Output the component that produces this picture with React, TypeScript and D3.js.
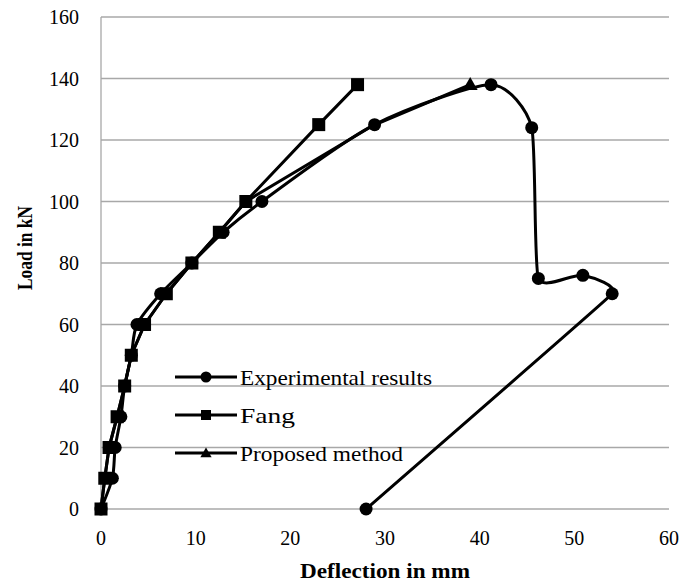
import React from 'react';
import * as d3 from 'd3';

// deflection (mm) / load (kN)
const expDefl = [0, 1.2, 1.5, 2.1, 2.5, 3.2, 3.8, 6.3, 9.6, 12.9, 17.0, 28.9, 41.2, 45.5, 46.2, 50.9, 54.0, 28.0];
const expLoad = [0, 10, 20, 30, 40, 50, 60, 70, 80, 90, 100, 125, 138, 124, 75, 76, 70, 0];

const fangDefl = [0, 0.4, 0.85, 1.7, 2.5, 3.2, 4.6, 6.9, 9.6, 12.5, 15.3, 23.0, 27.1];
const fangLoad = [0, 10, 20, 30, 40, 50, 60, 70, 80, 90, 100, 125, 138];

const propDefl = [0, 0.4, 0.85, 1.7, 2.5, 3.2, 4.6, 6.9, 9.6, 12.5, 15.3, 28.6, 39.0];
const propLoad = [0, 10, 20, 30, 40, 50, 60, 70, 80, 90, 100, 124.5, 138];

const xTicks = [0, 10, 20, 30, 40, 50, 60];
const yTicks = [0, 20, 40, 60, 80, 100, 120, 140, 160];

const legendNames = ['Experimental results', 'Fang', 'Proposed method'];
const legendWidths = [192, 55, 163];

const font = '"Liberation Serif", "Times New Roman", serif';

type Pt = [number, number];
const zip = (a: number[], b: number[]): Pt[] => a.map((v, i) => [v, b[i]]);

// excel-ish smoothed line: catmull-rom handles, capped by the shorter neighbouring segment
function smoothPath(pts: Pt[], k = 0.3) {
    const p = d3.path();
    const n = pts.length;
    const seg = (i: number) => Math.hypot(pts[i + 1][0] - pts[i][0], pts[i + 1][1] - pts[i][1]);
    const tan = pts.map((_, i) => {
        const a = pts[Math.max(0, i - 1)], b = pts[Math.min(n - 1, i + 1)];
        const dx = b[0] - a[0], dy = b[1] - a[1];
        const len = Math.hypot(dx, dy) || 1;
        const near = Math.min(i > 0 ? seg(i - 1) : Infinity, i < n - 1 ? seg(i) : Infinity);
        const h = Math.min(len / 6, k * near);
        return [dx / len * h, dy / len * h];
    });
    p.moveTo(pts[0][0], pts[0][1]);
    for (let i = 0; i < n - 1; i++) {
        const a = pts[i], b = pts[i + 1];
        p.bezierCurveTo(a[0] + tan[i][0], a[1] + tan[i][1],
            b[0] - tan[i + 1][0], b[1] - tan[i + 1][1], b[0], b[1]);
    }
    return p.toString();
}

export default function App() {
    const width = 693, height = 583;
    const left = 101, right = 669, top = 17, bottom = 509;

    const x = d3.scaleLinear().domain([0, 60]).range([left, right]);
    const y = d3.scaleLinear().domain([0, 160]).range([bottom, top]);

    const exp = zip(expDefl, expLoad);
    const fang = zip(fangDefl, fangLoad);
    const prop = zip(propDefl, propLoad);

    const straight = d3.line<Pt>().x(d => x(d[0])).y(d => y(d[1]));

    const tri = d3.symbol().type(d3.symbolTriangle).size(95)();
    const triSmall = d3.symbol().type(d3.symbolTriangle).size(55)();

    const marker = (kind: string, cx: number, cy: number, key: any, small = false) => {
        if (kind === 'circle') return <circle key={key} cx={cx} cy={cy} r={small ? 5.5 : 6.5} fill="#000" />;
        if (kind === 'square') {
            const s = small ? 10 : 13;
            return <rect key={key} x={cx - s / 2} y={cy - s / 2} width={s} height={s} fill="#000" />;
        }
        return <path key={key} d={small ? triSmall! : tri!} transform={`translate(${cx},${cy + 1})`} fill="#000" />;
    };

    const legendKinds = ['circle', 'square', 'triangle'];
    const legendY = [377, 415, 453];

    // only the peak triangle of the proposed curve shows; the rest sit under the other markers
    const propPeak = prop[prop.length - 1];

    return (
        <svg width={width} height={height} style={{ position: 'absolute', left: 0, top: 0 }}
            fontFamily={font}>
            <rect width={width} height={height} fill="#fff" />
            {yTicks.map(t => (
                <line key={'g' + t} x1={left} x2={right} y1={y(t)} y2={y(t)} stroke="#a8a8a8" strokeWidth={1.3} />
            ))}
            <line x1={left} x2={left} y1={top} y2={bottom} stroke="#a8a8a8" strokeWidth={1.3} />

            {yTicks.map(t => (
                <text key={'yl' + t} x={79} y={y(t)} dy="0.35em" textAnchor="end" fontSize={20}>{t}</text>
            ))}
            {xTicks.map(t => (
                <text key={'xl' + t} x={x(t)} y={545} textAnchor="middle" fontSize={20}>{t}</text>
            ))}

            <text x={385} y={578} textAnchor="middle" fontSize={21} fontWeight="bold"
                textLength={170} lengthAdjust="spacingAndGlyphs">Deflection in mm</text>
            <text transform="translate(32,248) rotate(-90)" textAnchor="middle" fontSize={21} fontWeight="bold"
                textLength={84} lengthAdjust="spacingAndGlyphs">Load in kN</text>

            <path d={straight(prop)!} fill="none" stroke="#000" strokeWidth={3} strokeLinejoin="round" />
            {marker('triangle', x(propPeak[0]), y(propPeak[1]), 'pk')}

            <path d={straight(fang)!} fill="none" stroke="#000" strokeWidth={3} strokeLinejoin="round" />
            {fang.map((d, i) => marker('square', x(d[0]), y(d[1]), 'f' + i))}

            <path d={smoothPath(exp.map(d => [x(d[0]), y(d[1])] as Pt))} fill="none" stroke="#000"
                strokeWidth={3} strokeLinejoin="round" />
            {exp.map((d, i) => marker('circle', x(d[0]), y(d[1]), 'e' + i))}

            {legendNames.map((n, i) => (
                <g key={'lg' + i}>
                    <line x1={175} x2={237} y1={legendY[i]} y2={legendY[i]} stroke="#000" strokeWidth={3} />
                    {marker(legendKinds[i], 206, legendY[i], 'lm' + i, true)}
                    <text x={240} y={legendY[i]} dy="0.35em" fontSize={22}
                        textLength={legendWidths[i]} lengthAdjust="spacingAndGlyphs">{n}</text>
                </g>
            ))}
        </svg>
    );
}
